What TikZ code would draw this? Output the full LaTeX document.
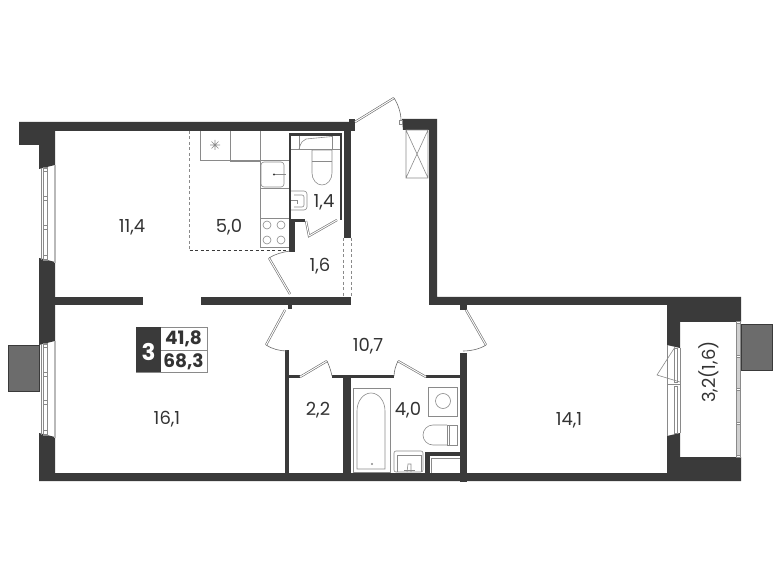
\documentclass[tikz,border=0pt]{standalone}
\usepackage{fontspec}
\setmainfont{Poppins}
\definecolor{wallc}{HTML}{3A3A3A}
\definecolor{thinc}{HTML}{8A8A8A}
\definecolor{textc}{HTML}{333333}
\definecolor{extc}{HTML}{6C6C6C}
\tikzset{
  wall/.style={fill=wallc,draw=none},
  fix/.style={draw=thinc,line width=.6pt},
  doorline/.style={draw=wallc!75,line width=.6pt},
  leaf/.style={draw=wallc!75,line width=2.2pt,postaction={draw=white,line width=1pt}},
  dashg/.style={draw=thinc,line width=.6pt,dash pattern=on 3pt off 2.5pt},
  dashk/.style={draw=wallc,line width=.6pt,dash pattern=on 3pt off 2.5pt},
  ext/.style={fill=extc,draw=wallc,line width=.5pt},
  lab/.style={font=\fontsize{18}{18}\selectfont,text=textc,inner sep=0pt},
  leg/.style={font=\fontsize{18.5}{18.5}\selectfont\bfseries,text=textc,inner sep=0pt}
}
\begin{document}
\begin{tikzpicture}[x=1pt,y=-1pt]
\useasboundingbox (0,0) rectangle (780,580);
% outer walls
\fill[wall] (19,122) -- (354,122) -- (354,131) -- (55,131) -- (55,165) -- (39,169) -- (39,145) -- (19,145) -- cycle;
\fill[wall] (39,258) -- (55,262) -- (55,341) -- (39,345) -- cycle;
\fill[wall] (39,433) -- (55,437) -- (55,473) -- (741,473) -- (741,481) -- (39,481) -- cycle;
% partitions
\fill[wall] (55,297) rectangle (143,305);
\fill[wall] (201,297) rectangle (351,305);
\fill[wall] (288,305) rectangle (292,309);
\fill[wall] (344,122) rectangle (351,238);
\fill[wall] (349,119) rectangle (355,131);
\fill[wall] (402,119) -- (437,119) -- (437,297) -- (741,297) -- (741,322) -- (680,322) -- (680,348) -- (667,345) -- (667,305) -- (436,305) -- (429,305) -- (429,130) -- (403,130) -- cycle;
\fill[wall] (460,305) rectangle (467,310);
\fill[wall] (667,436) -- (680,433) -- (680,457) -- (741,457) -- (741,473) -- (667,473) -- cycle;
% wc 1,4 walls
\fill[wall] (289,133) rectangle (342,136);
\fill[wall] (340,133) rectangle (342,220);
\fill[wall] (289,133) rectangle (291,220);
\fill[wall] (289,219) rectangle (305,222);
\fill[wall] (289,219) rectangle (295,252);
% hall lower walls
\fill[wall] (285,350) rectangle (289,473);
\fill[wall] (289,375) rectangle (300,378);
\fill[wall] (332,375) rectangle (351,378);
\fill[wall] (343,375) rectangle (351,473);
\fill[wall] (351,375) rectangle (394,378);
\fill[wall] (426,375) rectangle (460,378);
\fill[wall] (460,353) rectangle (467,482);
\fill[wall] (425,452) rectangle (460,456);
\fill[wall] (425,452) rectangle (430,473);
\draw[fix] (431,473) -- (431,458) -- (460,458);
% dashed kitchen and hall lines
\draw[dashg] (189.5,131) -- (189.5,250);
\draw[dashk] (189.5,250) -- (290,250);
\draw[dashg] (343.5,238) -- (343.5,297);
\draw[dashg] (351,238) -- (351,297);
% kitchen units
\draw[fix] (200,131) -- (200,160) -- (260,160);
\draw[fix] (230,131) -- (230,160);
\draw[fix] (230,161) -- (260,161);
\draw[fix] (260,131) -- (260,247) -- (289,247);
\draw[fix] (260,160) -- (289,160);
\draw[fix] (260,188) -- (289,188);
\draw[fix] (260,218) -- (289,218);
\draw[fix,rounded corners=3pt] (261,162) rectangle (284,187);
\draw[fix] (274,174.5) -- (286,174.5);
\fill[wallc] (274,174.5) circle (1.1);
\foreach \p in {(267,225),(281,225),(267,240),(281,240)} \draw[fix] \p circle (4);
\draw[fix] (210,145) -- (220,145) (215,140) -- (215,150) (211.5,141.5) -- (218.5,148.5) (211.5,148.5) -- (218.5,141.5);
% wc 1,4 fittings
\draw[fix] (291,149) -- (340,149);
\draw[fix] (299,136) -- (299,149);
\draw[fix] (332,136) -- (332,149);
\draw[fix] (299,149) .. controls (301,142) and (303,140) .. (306,139) -- (332,136.5);
\draw[fix] (312,150) -- (312,173) arc[start angle=180,end angle=0,x radius=10,y radius=12] -- (332,150) -- cycle;
\draw[fix] (312,161) -- (332,161);
\draw[fix,rounded corners=3pt] (291,191) -- (307,191) -- (307,210) -- (291,210);
\draw[fix,rounded corners=2pt] (294,195) -- (304,195) -- (304,207) -- (294,207);
\draw[fix] (291,200) -- (297,200) -- (297,204);
% doors
\draw[leaf] (306,221) -- (309,236) -- (337,220);
\draw[leaf] (290,294) -- (269,258);
\draw[doorline] (269,258) .. controls (275,254) and (283,252) .. (290,251);
\draw[leaf] (355,122) -- (394,98);
\draw[doorline] (394,98) .. controls (398,104) and (401,113) .. (401,120);
\fill[white,draw=thinc,line width=.5pt] (399.5,120) rectangle (402.5,124.5);
\draw[fix] (406,130) rectangle (428,178) (406,130) -- (428,178) (428,130) -- (406,178);
\draw[leaf] (285,310) -- (266,345);
\draw[doorline] (266,345) .. controls (272,349) and (280,351) .. (287,351);
\draw[leaf] (300,377) -- (327,361);
\draw[doorline] (327,361) .. controls (329,365) and (331,371) .. (332,376);
\draw[leaf] (426,377) -- (398,361);
\draw[doorline] (398,361) .. controls (396,365) and (394,371) .. (394,376);
\draw[leaf] (466,310) -- (486,345);
\draw[doorline] (486,345) .. controls (480,349) and (471,351) .. (463,351);
% bathroom fittings
\draw[fix] (353,388) rectangle (390,472);
\draw[fix] (357,469) -- (385,469) -- (385,411) arc[start angle=0,end angle=180,x radius=14,y radius=-18] -- cycle;
\draw[fix] (372,464) circle (.8);
\draw[fix] (428,387) rectangle (457,416);
\draw[fix] (443,401) circle (7.5);
\draw[fix] (457,425) rectangle (447,445);
\draw[fix] (449,425) -- (449,445);
\draw[fix] (447,425) -- (433,425) arc[start angle=90,end angle=270,x radius=10,y radius=-10] -- (447,445);
\draw[fix,rounded corners=2pt] (394,451) -- (423,451) -- (423,472) -- (394,472) -- cycle;
\draw[fix] (397,455) -- (421,455) (397,455) -- (397,472) (421,455) -- (421,472);
\draw[fix] (407,472) -- (408,464) -- (411,464) -- (411,472);
\draw[fix] (404,470) -- (415,470);
% left windows
\foreach \t/\b in {168/260,344/435}{
  \draw[fix] (41,\t) -- (41,\b);
  \draw[fix] (43,\t) rectangle (47,\b);
  \fill[thinc!60] (54,{\t-3}) rectangle (55.5,{\b+3});
  \foreach \f in {.01,.33,.64,.97} \draw[fix] (43,{\t+\f*(\b-\t)-2}) rectangle (47,{\t+\f*(\b-\t)+2});
}
\draw[ext] (8,345) rectangle (39,391);
% balcony door and window
\draw[fix] (667,345) -- (667,436);
\draw[fix] (680,348) -- (680,433);
\draw[fix] (674,348) rectangle (677,382) (674,386) rectangle (677,433);
\draw[fix] (667,384) -- (680,384);
\draw[fix] (675,347) -- (657,375) -- (680,382);
\fill[thinc!40,draw=thinc,line width=.5pt] (736,322) rectangle (740.5,457);
\foreach \y in {322,356,389,423,456} \fill[white,draw=thinc,line width=.4pt] (736,{\y-1}) rectangle (740.5,{\y+1});
\draw[ext] (741,324) rectangle (772,370);
% legend
\draw[fix,fill=white] (136,327) rectangle (207,372);
\draw[fix] (161,350) -- (207,350);
\fill[wall] (136,327) rectangle (161,372);
\node[font=\fontsize{23}{23}\selectfont\bfseries,text=white,inner sep=0pt] (rooms) at (148.5,352) {3};
\node[leg] (liv) at (183.5,338.5) {41,8};
\node[leg] (tot) at (183.5,361.5) {68,3};
% labels
\node[lab] (a) at (132,227) {11,4};
\node[lab] (b) at (229,227) {5,0};
\node[lab] (c) at (324,202) {1,4};
\node[lab] (d) at (320,266) {1,6};
\node[lab] (e) at (167,419) {16,1};
\node[lab] (f) at (368,346) {10,7};
\node[lab] (g) at (318,410) {2,2};
\node[lab] (h) at (408,410) {4,0};
\node[lab] (i) at (569,420) {14,1};
\node[lab,rotate=90] (j) at (709,372) {3,2(1,6)};
\end{tikzpicture}
\end{document}
